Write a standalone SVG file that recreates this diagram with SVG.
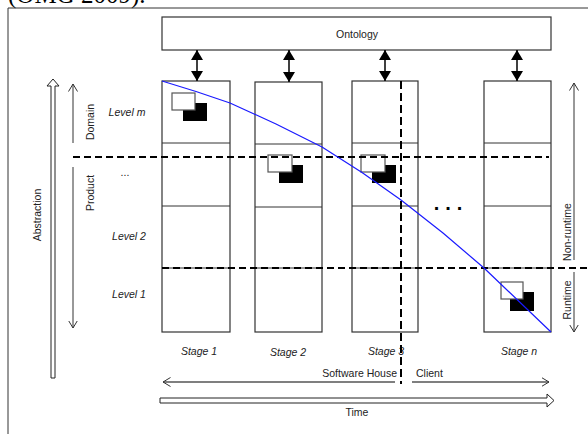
<svg xmlns="http://www.w3.org/2000/svg" width="588" height="434" viewBox="0 0 588 434">
<style>
text{font-family:"Liberation Sans",Arial,sans-serif;font-size:10.5px;fill:#222}
.it{font-style:italic}
.col{fill:none;stroke:#333;stroke-width:1.2}
.div{stroke:#333;stroke-width:1}
.dash{stroke:#000;stroke-width:2;stroke-dasharray:7 4;fill:none}
.thin{stroke:#333;stroke-width:1;fill:none}
.wsq{fill:#fff;stroke:#555;stroke-width:1.2}
.bsq{fill:#000}
.dbl{stroke:#000;stroke-width:1.5;marker-start:url(#fh);marker-end:url(#fh)}
.hol{fill:#fff;stroke:#222;stroke-width:1}
</style>
<defs>
<marker id="fh" viewBox="0 0 10 12" refX="10" refY="6" markerWidth="10" markerHeight="12" markerUnits="userSpaceOnUse" orient="auto-start-reverse">
<path d="M0,0 L10,6 L0,12 Z" fill="#000"/>
</marker>
<marker id="oh" viewBox="0 0 8 10" refX="7.5" refY="5" markerWidth="8" markerHeight="10" markerUnits="userSpaceOnUse" orient="auto-start-reverse">
<path d="M0,0.5 L7.5,5 L0,9.5" fill="none" stroke="#333" stroke-width="1"/>
</marker>
</defs>
<rect width="588" height="434" fill="#fff"/>
<text x="8" y="3" style="font-family:'Liberation Serif','Times New Roman',serif;font-size:25px;fill:#000">(OMG 2009).</text>
<path d="M8,434 L8,8 L588,8" class="thin"/>

<g id="ontology">
<rect x="162" y="17" width="389" height="33" class="col"/>
<text x="357" y="38" text-anchor="middle">Ontology</text>
</g>

<g id="stage1">
<rect x="162" y="81" width="68" height="251" class="col"/>
<line x1="162" y1="143" x2="230" y2="143" class="div"/>
<line x1="162" y1="206" x2="230" y2="206" class="div"/>
<line x1="162" y1="268" x2="230" y2="268" class="div"/>
<rect x="183" y="103" width="24" height="18" class="bsq"/>
<rect x="172" y="93" width="23" height="17" class="wsq"/>
<text x="199" y="355" class="it" text-anchor="middle">Stage 1</text>
</g>
<g id="stage2">
<rect x="255" y="82" width="67" height="250" class="col"/>
<line x1="255" y1="144" x2="322" y2="144" class="div"/>
<line x1="255" y1="207" x2="322" y2="207" class="div"/>
<line x1="255" y1="268" x2="322" y2="268" class="div"/>
<rect x="279" y="165" width="24" height="18" class="bsq"/>
<rect x="268" y="155" width="24" height="17" class="wsq"/>
<text x="288" y="356" class="it" text-anchor="middle">Stage 2</text>
</g>
<g id="stage3">
<rect x="352" y="81" width="66" height="251" class="col"/>
<line x1="352" y1="143" x2="418" y2="143" class="div"/>
<line x1="352" y1="206" x2="418" y2="206" class="div"/>
<line x1="352" y1="268" x2="418" y2="268" class="div"/>
<rect x="372" y="165" width="24" height="18" class="bsq"/>
<rect x="361" y="155" width="24" height="17" class="wsq"/>
<text x="386" y="355" class="it" text-anchor="middle">Stage 3</text>
</g>
<g id="stagen">
<rect x="484" y="81" width="67" height="251" class="col"/>
<line x1="484" y1="143" x2="551" y2="143" class="div"/>
<line x1="484" y1="206" x2="551" y2="206" class="div"/>
<line x1="484" y1="268" x2="551" y2="268" class="div"/>
<rect x="510" y="292" width="24" height="19" class="bsq"/>
<rect x="501" y="282" width="22" height="17" class="wsq"/>
<text x="519" y="355" class="it" text-anchor="middle">Stage n</text>
</g>

<g id="labels">
<text x="127" y="116" class="it" text-anchor="middle">Level m</text>
<text x="125" y="176" text-anchor="middle">...</text>
<text x="129" y="240" class="it" text-anchor="middle">Level 2</text>
<text x="129" y="298" class="it" text-anchor="middle">Level 1</text>
<text x="451" y="210" text-anchor="middle" style="font-size:20px;font-weight:bold;letter-spacing:6px;fill:#000">...</text>
<text transform="translate(41,215) rotate(-90)" text-anchor="middle">Abstraction</text>
<text transform="translate(94,122) rotate(-90)" text-anchor="middle">Domain</text>
<text transform="translate(94,193) rotate(-90)" text-anchor="middle">Product</text>
<text transform="translate(571,232) rotate(-90)" text-anchor="middle">Non-runtime</text>
<text transform="translate(571,300) rotate(-90)" text-anchor="middle">Runtime</text>
<text x="397" y="377" text-anchor="end">Software House</text>
<text x="416" y="377">Client</text>
<text x="357" y="416" text-anchor="middle">Time</text>
</g>

<g id="connectors">
<line x1="197" y1="50" x2="197" y2="81" class="dbl"/>
<line x1="289" y1="50" x2="289" y2="82" class="dbl"/>
<line x1="385" y1="50" x2="385" y2="81" class="dbl"/>
<line x1="517" y1="50" x2="517" y2="81" class="dbl"/>
<line x1="73" y1="157" x2="549" y2="157" class="dash"/>
<line x1="162" y1="268" x2="588" y2="268" class="dash"/>
<line x1="401" y1="81" x2="401" y2="384" class="dash" style="stroke-dasharray:8 4"/>
<polyline points="162,81 196,91.5 230,103 276,124 322,147 362,172.5 401,200 443,233 484,268 551,332" fill="none" stroke="#1a1aff" stroke-width="1.2" stroke-linejoin="round"/>
<polygon points="51,378 55,378 55,86 59,86 53,79 47,86 51,86" class="hol"/>
<polygon points="160,398 547,398 547,394 554,400.5 547,407 547,403 160,403" class="hol"/>
<line x1="73" y1="143" x2="73" y2="84" class="thin" style="marker-end:url(#oh)"/>
<line x1="73" y1="167" x2="73" y2="328" class="thin" style="marker-end:url(#oh)"/>
<line x1="574" y1="260" x2="574" y2="83" class="thin" style="marker-end:url(#oh)"/>
<line x1="574" y1="272" x2="574" y2="332" class="thin" style="marker-end:url(#oh)"/>
<line x1="395" y1="382" x2="163" y2="382" class="thin" style="marker-end:url(#oh);stroke:#555;stroke-width:1.3"/>
<line x1="412" y1="382" x2="549" y2="382" class="thin" style="marker-end:url(#oh);stroke:#555;stroke-width:1.3"/>
</g>
</svg>
